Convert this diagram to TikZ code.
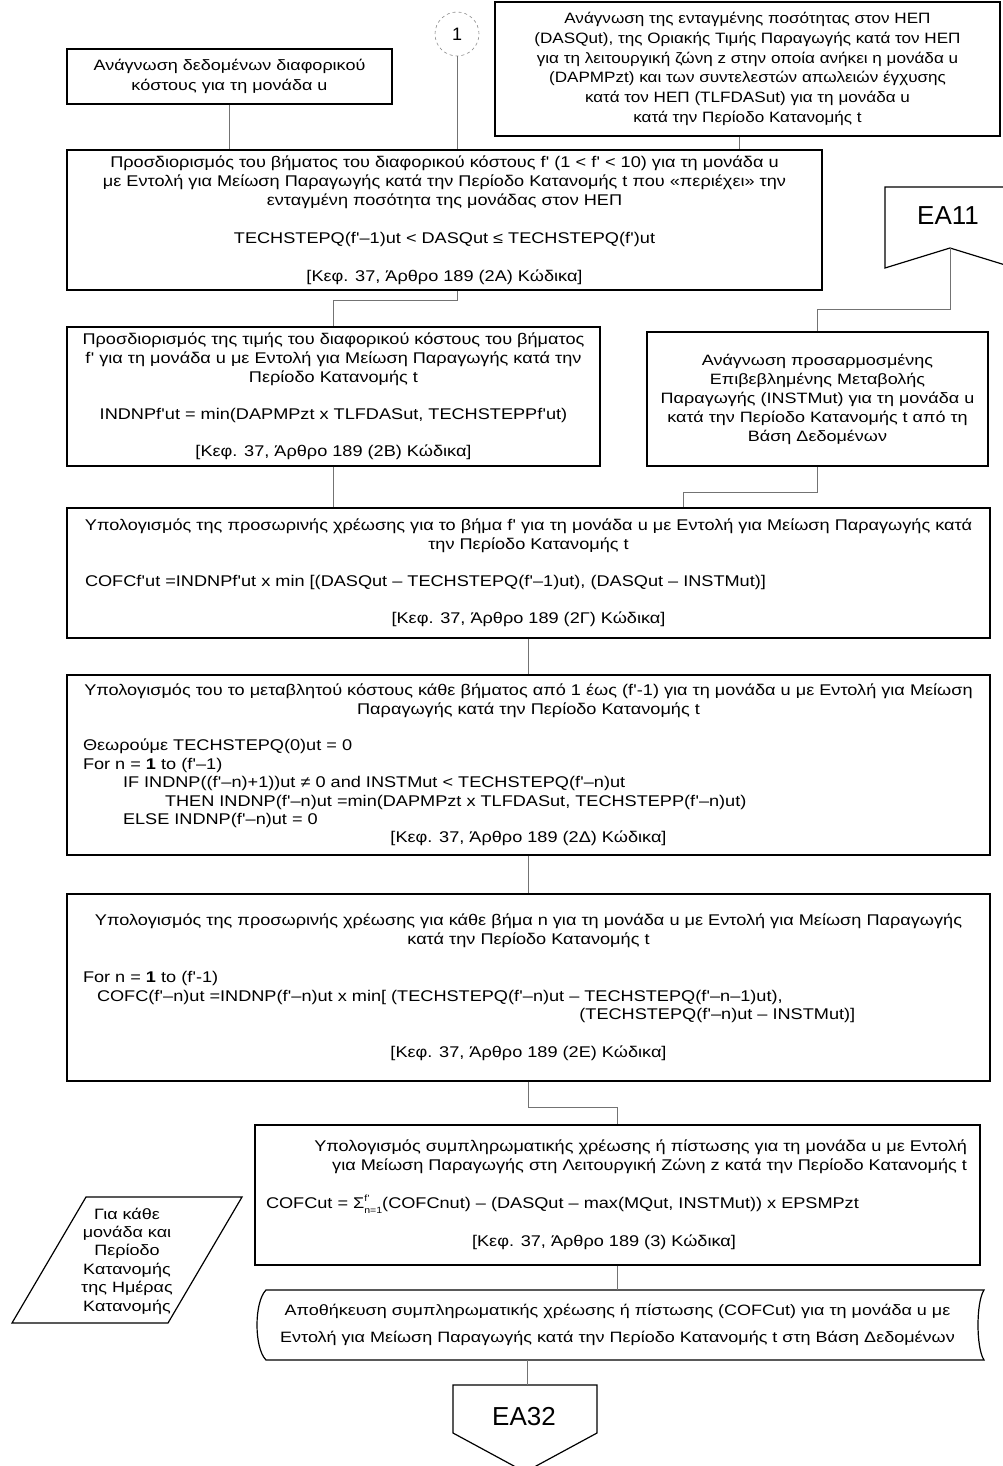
\documentclass[tikz,border=0pt]{standalone}
\usepackage{fontspec}
\setmainfont{Liberation Sans}
\newfontfamily\widesans{Liberation Sans}[FakeStretch=1.2]
\newfontfamily\bodysans{Liberation Sans}[FakeStretch=1.17]
\newfontfamily\headsans{Liberation Sans}[FakeStretch=1.14]
\usetikzlibrary{calc}

% line helpers for the text blocks inside the boxes
\newcommand\cl[1]{\centerline{#1}}
\newcommand\lft[2][0pt]{\leftline{\hspace*{#1}#2}}
\newcommand\rgt[1]{\rightline{#1}}
\newcommand\blankline{\vskip\baselineskip}
\newcommand\fp{f\kern0.3pt'}
\newcommand\smalltxt[1]{{\fontsize{9}{9}\selectfont #1}}

\begin{document}
\begin{tikzpicture}[x=1pt,y=-1pt,
  box/.style={draw, line width=1.2pt, rectangle, inner sep=0pt},
  shapeline/.style={draw, line width=1.2pt, line join=miter},
  conn/.style={draw=black!55, line width=0.9pt},
  plain/.style={inner sep=0pt}]
\useasboundingbox[fill=white] (0,0) rectangle (1003,1466);

% ---- connector circle 1
\node[circle, draw=black!45, dashed, line width=0.6pt, minimum size=44pt, inner sep=0pt,
      font=\fontsize{18}{18}\selectfont] (c1) at (457,34) {1};

% ---- read differential cost data
\node[box, minimum width=325pt, minimum height=55pt] (rdA) at (229.5,76.5)
 {\begin{minipage}{305pt}\widesans\fontsize{15}{20}\selectfont
  \cl{Ανάγνωση δεδομένων διαφορικού}
  \cl{κόστους για τη μονάδα u}
  \end{minipage}};

% ---- read scheduled quantity etc.
\node[box, minimum width=505pt, minimum height=134pt] (rdB) at (747.5,69)
 {\begin{minipage}{490pt}\headsans\fontsize{15}{19.8}\selectfont
  \cl{Ανάγνωση της ενταγμένης ποσότητας στον ΗΕΠ}
  \cl{(DASQut), της Οριακής Τιμής Παραγωγής κατά τον ΗΕΠ}
  \cl{για τη λειτουργική ζώνη z στην οποία ανήκει η μονάδα u}
  \cl{(DAPMPzt) και των συντελεστών απωλειών έγχυσης}
  \cl{κατά τον ΗΕΠ (TLFDASut) για τη μονάδα u}
  \cl{κατά την Περίοδο Κατανομής t}
  \vskip3pt
  \end{minipage}};

% ---- step determination
\node[box, minimum width=755pt, minimum height=140pt] (rdC) at (444.5,220)
 {\begin{minipage}{740pt}\bodysans\fontsize{15.5}{19}\selectfont
  \cl{Προσδιορισμός του βήματος του διαφορικού κόστους \fp\ (1 < \fp\ < 10) για τη μονάδα u}
  \cl{με Εντολή για Μείωση Παραγωγής κατά την Περίοδο Κατανομής t που «περιέχει» την}
  \cl{ενταγμένη ποσότητα της μονάδας στον ΗΕΠ}
  \blankline
  \cl{TECHSTEPQ(\fp–1)ut < DASQut ≤ TECHSTEPQ(\fp)ut}
  \blankline
  \cl{[Κεφ. 37, Άρθρο 189 (2Α) Κώδικα]}
  \end{minipage}};

% ---- step value
\node[box, minimum width=533pt, minimum height=139pt] (rdD) at (333.5,396.5)
 {\begin{minipage}{520pt}\bodysans\fontsize{15.5}{18.7}\selectfont
  \cl{Προσδιορισμός της τιμής του διαφορικού κόστους του βήματος}
  \cl{\fp\ για τη μονάδα u με Εντολή για Μείωση Παραγωγής κατά την}
  \cl{Περίοδο Κατανομής t}
  \blankline
  \cl{INDNP\fp ut = min(DAPMPzt x TLFDASut, TECHSTEPP\fp ut)}
  \blankline
  \cl{[Κεφ. 37, Άρθρο 189 (2Β) Κώδικα]}
  \end{minipage}};

% ---- off-page connector EA11
\path[shapeline] (885,187) -- (1015,187) -- (1015,268) -- (950,248) -- (885,268) -- cycle;
\node[plain, font=\fontsize{26}{26}\selectfont] (ea11) at (948,216) {EA11};
\coordinate (ea11tip) at (950,248);

% ---- read adjusted instructed change
\node[box, minimum width=341pt, minimum height=134pt] (rdE) at (817.5,399)
 {\begin{minipage}{330pt}\widesans\fontsize{15}{19}\selectfont
  \cl{Ανάγνωση προσαρμοσμένης}
  \cl{Επιβεβλημένης Μεταβολής}
  \cl{Παραγωγής (INSTMut) για τη μονάδα u}
  \cl{κατά την Περίοδο Κατανομής t από τη}
  \cl{Βάση Δεδομένων}
  \end{minipage}};

% ---- provisional charge for step f'
\node[box, minimum width=923pt, minimum height=130pt] (rdF) at (528.5,573)
 {\begin{minipage}{887pt}\bodysans\fontsize{15.5}{18.5}\selectfont
  \cl{Υπολογισμός της προσωρινής χρέωσης για το βήμα \fp\ για τη μονάδα u με Εντολή για Μείωση Παραγωγής κατά}
  \cl{την Περίοδο Κατανομής t}
  \blankline
  \lft{COFC\fp ut =INDNP\fp ut x min [(DASQut – TECHSTEPQ(\fp–1)ut), (DASQut – INSTMut)]}
  \blankline
  \cl{[Κεφ. 37, Άρθρο 189 (2Γ) Κώδικα]}
  \end{minipage}};

% ---- variable cost of steps 1 .. f'-1
\node[box, minimum width=923pt, minimum height=180pt] (rdG) at (528.5,765)
 {\begin{minipage}{891pt}\bodysans\fontsize{15.5}{18.4}\selectfont
  \cl{Υπολογισμός του το μεταβλητού κόστους κάθε βήματος από 1 έως (\fp-1) για τη μονάδα u με Εντολή για Μείωση}
  \cl{Παραγωγής κατά την Περίοδο Κατανομής t}
  \blankline
  \lft{Θεωρούμε TECHSTEPQ(0)ut = 0}
  \lft{For n = \textbf{1} to (\fp–1)}
  \lft[40pt]{IF INDNP((\fp–n)+1))ut ≠ 0 and INSTMut < TECHSTEPQ(\fp–n)ut}
  \lft[82pt]{THEN INDNP(\fp–n)ut =min(DAPMPzt x TLFDASut, TECHSTEPP(\fp–n)ut)}
  \lft[40pt]{ELSE INDNP(\fp–n)ut = 0}
  \cl{[Κεφ. 37, Άρθρο 189 (2Δ) Κώδικα]}
  \end{minipage}};

% ---- provisional charge for every step n
\node[box, minimum width=923pt, minimum height=187pt] (rdH) at (528.5,987.5)
 {\begin{minipage}{891pt}\bodysans\fontsize{15.5}{18.8}\selectfont
  \cl{Υπολογισμός της προσωρινής χρέωσης για κάθε βήμα n για τη μονάδα u με Εντολή για Μείωση Παραγωγής}
  \cl{κατά την Περίοδο Κατανομής t}
  \blankline
  \lft{For n = \textbf{1} to (\fp-1)}
  \lft[14pt]{COFC(\fp–n)ut =INDNP(\fp–n)ut x min[ (TECHSTEPQ(\fp–n)ut – TECHSTEPQ(\fp–n–1)ut),}
  \lft[14pt]{\phantom{COFC(\fp–n)ut =INDNP(\fp–n)ut x min[ (TECHSTEPQ(\fp–n)ut –}(TECHSTEPQ(\fp–n)ut – INSTMut)]}
  \blankline
  \cl{[Κεφ. 37, Άρθρο 189 (2Ε) Κώδικα]}
  \end{minipage}};

% ---- supplementary charge or credit
\node[box, minimum width=725pt, minimum height=140pt] (rdI) at (617.5,1195)
 {\begin{minipage}{703pt}\bodysans\fontsize{15.5}{19}\selectfont
  \rgt{Υπολογισμός συμπληρωματικής χρέωσης ή πίστωσης για τη μονάδα u με Εντολή\hspace*{2pt}}
  \rgt{για Μείωση Παραγωγής στη Λειτουργική Ζώνη z κατά την Περίοδο Κατανομής t\hspace*{2pt}}
  \blankline
  \lft{COFCut = Σ\rlap{\raisebox{7pt}{\smalltxt{\fp}}}\raisebox{-4.5pt}{\smalltxt{n=1}}(COFCnut) – (DASQut – max(MQut, INSTMut)) x EPSMPzt}
  \blankline
  \cl{[Κεφ. 37, Άρθρο 189 (3) Κώδικα]\hspace*{27pt}}
  \end{minipage}};

% ---- store in the database (stored-data outline)
\path[shapeline] (266,1290) -- (984,1290)
  .. controls (976,1302) and (976,1348) .. (984,1360)
  -- (266,1360)
  .. controls (254,1348) and (254,1302) .. (266,1290) -- cycle;
\node[plain] (rdJ) at (617.5,1325)
 {\begin{minipage}{700pt}\widesans\fontsize{15}{27}\selectfont
  \cl{Αποθήκευση συμπληρωματικής χρέωσης ή πίστωσης (COFCut) για τη μονάδα u με}
  \cl{Εντολή για Μείωση Παραγωγής κατά την Περίοδο Κατανομής t στη Βάση Δεδομένων}
  \end{minipage}};
\coordinate (rdJs) at (527,1360);

% ---- off-page connector EA32
\path[shapeline] (453,1385) -- (597,1385) -- (597,1433) -- (525,1472) -- (453,1433) -- cycle;
\node[plain, font=\fontsize{26}{26}\selectfont] (ea32) at (524,1417) {EA32};
\coordinate (ea32top) at (527,1385);

% ---- loop parallelogram
\path[shapeline] (86,1197) -- (242,1197) -- (168,1323) -- (12,1323) -- cycle;
\node[plain] (loop) at (127,1261)
 {\begin{minipage}{120pt}\widesans\fontsize{15}{18.4}\selectfont
  \cl{Για κάθε}
  \cl{μονάδα και}
  \cl{Περίοδο}
  \cl{Κατανομής}
  \cl{της Ημέρας}
  \cl{Κατανομής}
  \end{minipage}};

% ---- connectors
\draw[conn] (rdA.south) -- (rdA.south |- rdC.north);
\draw[conn] (c1.south) -- (c1.south |- rdC.north);
\draw[conn] ($(rdB.south)+(-8,0)$) -- ($(rdB.south |- rdC.north)+(-8,0)$);
\draw[conn] (c1.south |- rdC.south) -- ++(0,10) -| (rdD.north);
\draw[conn] (ea11tip) |- ($(rdE.north)+(0,-22)$) -- (rdE.north);
\draw[conn] (rdD.south) -- (rdD.south |- rdF.north);
\draw[conn] (rdE.south) -- ++(0,26) -| ($(rdF.north)+(154.5,0)$);
\draw[conn] (rdF.south) -- (rdG.north);
\draw[conn] (rdG.south) -- (rdH.north);
\draw[conn] (rdH.south) -- ++(0,26) -| (rdI.north);
\draw[conn] (rdI.south) -- (rdI.south |- 0,1290);
\draw[conn] (rdJs) -- (ea32top);
\end{tikzpicture}
\end{document}
